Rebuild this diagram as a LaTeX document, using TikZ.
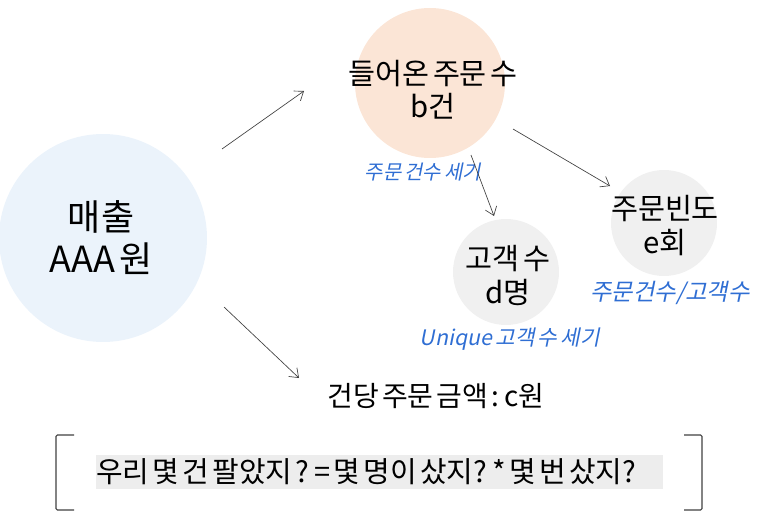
\documentclass[tikz,border=0pt]{standalone}
\usepackage{fontspec}
\setmainfont{Noto Sans CJK KR}[WordSpace=0.5]
\newfontfamily\notefont{Noto Sans CJK KR}[FakeSlant=0.2,WordSpace=0.7]
\usepackage{xcolor}
\usepackage{tikz}
\usetikzlibrary{
arrows.meta,
positioning,
backgrounds
}

\definecolor{salesblue}{HTML}{EBF3FB}
\definecolor{orderpeach}{HTML}{FBE5D6}
\definecolor{bubblegray}{HTML}{F0F0F0}
\definecolor{boxgray}{HTML}{EDEDED}
\definecolor{noteblue}{HTML}{2F6ED3}
\definecolor{arrowgray}{HTML}{404040}

\begin{document}
\begin{tikzpicture}[
x=0.75pt,y=-0.75pt,
bubble/.style={
inner sep=0pt,
align=center,
font=\fontsize{22}{25}\selectfont
},
note/.style={
text=noteblue,
font=\notefont\fontsize{15}{17}\selectfont
},
arrow/.style={-{Straight Barb[length=6pt,width=9pt]},draw=arrowgray,line width=0.5pt}
]

\useasboundingbox (0,0) rectangle (767,524);

\node[bubble,font=\fontsize{27}{31.5}\selectfont] (sales) at (101,238) {
매출\\
AAA 원
};

\node[bubble] (orders) at (433,90) {
들어온 주문 수\\
b건
};

\node[bubble,font=\fontsize{22}{25.5}\selectfont] (customers) at (508,275) {
고객 수\\
d명
};

\node[bubble,font=\fontsize{22}{25.5}\selectfont] (frequency) at (665,226) {
주문빈도\\
e회
};

\begin{scope}[on background layer]
\fill[salesblue] (103,238) circle (104);
\fill[orderpeach] (430,83) circle (75);
\fill[bubblegray] (506,272) circle (53);
\fill[bubblegray] (664,223) circle (53);
\end{scope}

\node[note] (countorders) at (423,172) {주문 건수 세기};
\node[note,font=\notefont\fontsize{16}{18}\selectfont] (countunique) at (510,339) {Unique 고객 수 세기};
\node[note,font=\notefont\fontsize{17.5}{19}\selectfont] (ratio) at (670,293) {주문건수/고객수};

\node[font=\fontsize{21}{24}\selectfont] (perorder) at (436,396) {
건당 주문 금액 : c원
};

\node[fill=boxgray,anchor=west,inner xsep=0pt,inner ysep=0pt,
minimum height=26pt,
font=\fontsize{21.7}{24}\selectfont] (question) at (96,472) {\makebox[425pt][l]{우리 몇 건 팔았지 ? = 몇 명이 샀지? * 몇 번 샀지?}};

% arrow ends
\coordinate (salesout1) at (222,149);
\coordinate (ordersin) at (304,91);
\coordinate (salesout2) at (224,307);
\coordinate (perorderin) at (299,378);
\coordinate (ordersout1) at (513,129);
\coordinate (frequencyin) at (610,186);
\coordinate (ordersout2) at (471,155);
\coordinate (customersin) at (494,216);

\draw[arrow] (salesout1) -- (ordersin);
\draw[arrow] (salesout2) -- (perorderin);
\draw[arrow] (ordersout1) -- (frequencyin);
\draw[arrow] (ordersout2) -- (customersin);

% brackets
\draw[arrowgray,line width=0.8pt,rounded corners=1pt]
(74,435) -- (56,435) -- (56,510) -- (74,510);
\draw[arrowgray,line width=0.8pt,rounded corners=1pt]
(684,435) -- (702,435) -- (702,510) -- (684,510);

\end{tikzpicture}
\end{document}
